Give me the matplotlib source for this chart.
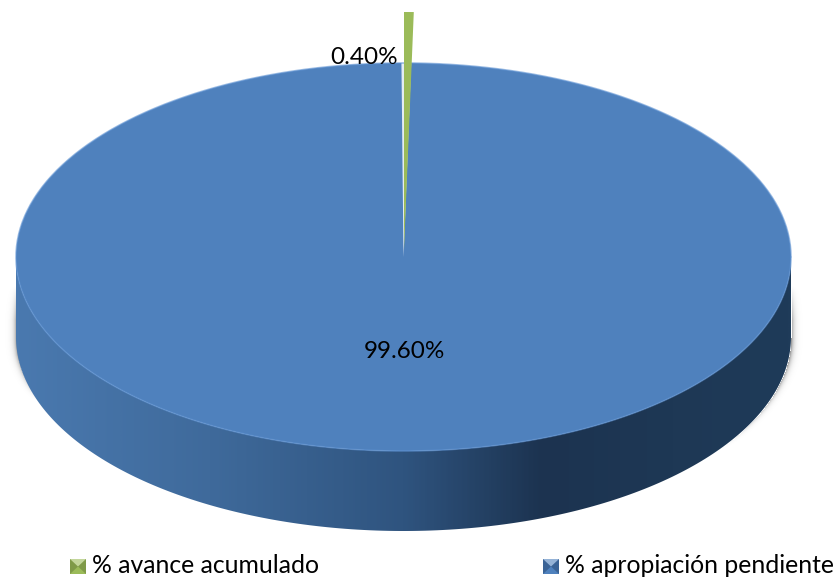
import numpy as np
import matplotlib
matplotlib.use("Agg")
import matplotlib.pyplot as plt
from matplotlib.colors import LinearSegmentedColormap
from matplotlib.patches import Polygon, Rectangle

# Datos del grafico
categorias = ["% avance acumulado", "% apropiación pendiente"]
porcentajes = [0.40, 99.60]
colores = ["#9BBB59", "#4F81BD"]

# Geometria del disco en pixeles
ANCHO, ALTO = 838, 577
CX, CY = 403.5, 257
RX, RY = 387.5, 194
PROFUNDIDAD = 80

plt.rcParams["font.family"] = ["Lato", "DejaVu Sans"]

fig = plt.figure(figsize=(ANCHO / 100, ALTO / 100), dpi=100)
ax = fig.add_axes([0, 0, 1, 1])

# el eje esta escalado para que el circulo unidad sea la elipse
limx = (-CX / RX, (ANCHO - CX) / RX)
limy = ((CY - ALTO) / RY, CY / RY)
prof = PROFUNDIDAD / RY


def px(x, y):
    return (x - CX) / RX, (CY - y) / RY


# Sombra difusa alrededor de la pared
yy, xx = np.mgrid[0:ALTO, 0:ANCHO]
base = CY + PROFUNDIDAD
medio = RX * np.sqrt(np.clip(1 - (np.maximum(yy - base, 0) / RY) ** 2, 0, 1))
dist = np.abs(xx - CX) - medio
aparece = np.clip((yy - 285) / 35, 0, 1)
desaparece = np.where(xx < CX, np.clip((400 - yy) / 45, 0, 1), np.clip((450 - yy) / 90, 0, 1))
alfa = np.where(dist > 0, 0.4 * np.exp(-dist / 2.5), 0) * aparece * desaparece
sombra = np.zeros((ALTO, ANCHO, 4))
sombra[..., 3] = alfa
ax.imshow(sombra, aspect="auto", extent=(*limx, *limy), zorder=1)

# Pared lateral
t = np.linspace(np.pi, 2 * np.pi, 200)
pared = np.column_stack([
    np.r_[np.cos(t), np.cos(t[::-1])],
    np.r_[np.sin(t) - prof, np.sin(t[::-1])],
])

grad = LinearSegmentedColormap.from_list("pared", [
    (0.0, "#4A79AF"), (0.25, "#3F6A9B"), (0.5, "#2F547F"),
    (0.68, "#1C3350"), (0.85, "#1E3855"), (1.0, "#1F3B59"),
])
img = ax.imshow(np.linspace(0, 1, 400)[None, :], cmap=grad, aspect="auto",
                extent=(-1, 1, -1 - prof, 0), zorder=2)
img.set_clip_path(Polygon(pared, transform=ax.transData))

# Cara superior
ax.pie([porcentajes[0], porcentajes[1]], colors=["#E4ECF4", colores[1]],
       startangle=90.3, counterclock=False, radius=1,
       wedgeprops={"zorder": 3, "linewidth": 0})
# borde claro
s = np.linspace(0, 2 * np.pi, 400)
ax.plot(np.cos(s), np.sin(s), color="#5E92D2", lw=1.2, alpha=0.6, zorder=4)

# Porcion separada; la perspectiva la estrecha un poco respecto al angulo real
estrechar = 0.82
c_verde = px(CX + 0.5, 250)
ax.pie([porcentajes[0] * estrechar, 100 - porcentajes[0] * estrechar], colors=[colores[0], "none"],
       startangle=90, counterclock=False, radius=238 / RY, center=c_verde,
       wedgeprops={"zorder": 5, "linewidth": 0})

ax.set_aspect("auto")
ax.set_xlim(*limx)
ax.set_ylim(*limy)
ax.axis("off")

# Etiquetas
ax.text(*px(364, 58), f"{porcentajes[0]:.2f}%", fontsize=17.5, ha="center",
        va="center", color="black", zorder=6)
ax.text(*px(404, 352), f"{porcentajes[1]:.2f}%", fontsize=17.5, ha="center",
        va="center", color="black", zorder=6)


# Leyenda
def marca(x0, y0, ancho, alto, color, claro, oscuro):
    ax.add_patch(Rectangle(px(x0, y0 + alto), ancho / RX, alto / RY, color=oscuro,
                           lw=0, zorder=6))
    ax.add_patch(Polygon([px(x0, y0), px(x0 + ancho, y0), px(x0 + ancho / 2, y0 + alto / 2)],
                         color=claro, lw=0, zorder=7))
    ax.add_patch(Polygon([px(x0, y0 + alto), px(x0 + ancho, y0 + alto),
                          px(x0 + ancho / 2, y0 + alto / 2)],
                         color=color, lw=0, zorder=7))


marca(70, 559, 16, 15, colores[0], "#C3D69B", "#7F9A48")
marca(543, 559, 16, 15, colores[1], "#95B3D7", "#3A6396")
ax.text(*px(92, 565.5), categorias[0], fontsize=17.8, ha="left", va="center", zorder=7)
ax.text(*px(565, 565.5), categorias[1], fontsize=17.8, ha="left", va="center", zorder=7)

fig.savefig("out.png", dpi=100)
